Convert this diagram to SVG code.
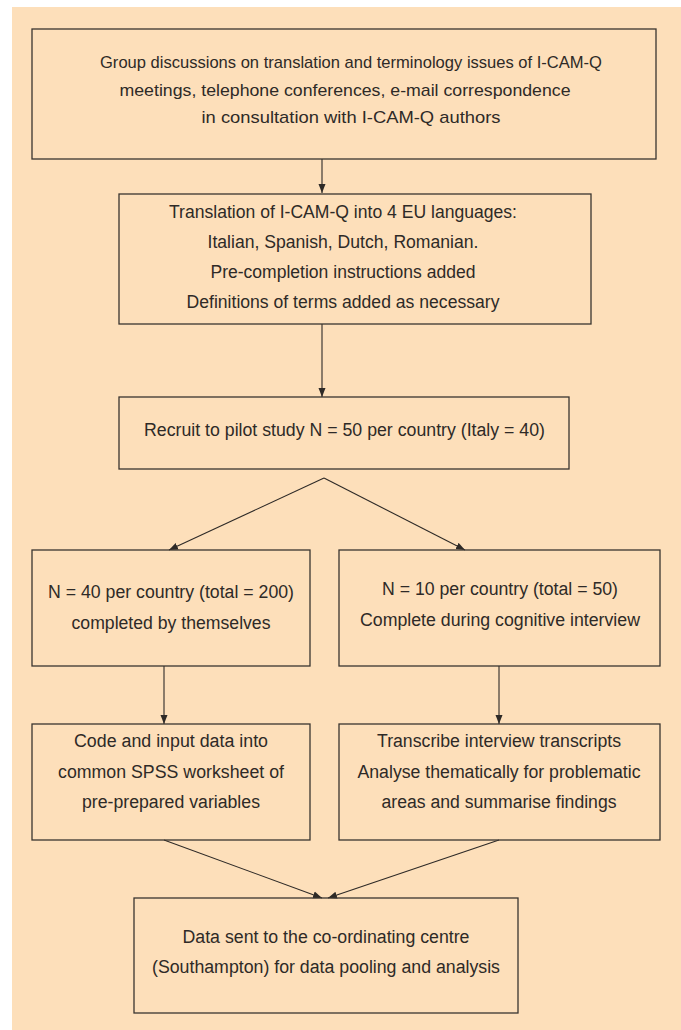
<svg xmlns="http://www.w3.org/2000/svg" width="681" height="1030" viewBox="0 0 681 1030">
<style>
.box{fill:none;stroke:#3a3530;stroke-width:1.3}
.t{font-family:"Liberation Sans",Arial,sans-serif;font-size:18px;fill:#2e2a27;text-anchor:middle}
.s{font-size:17px}
.r{font-size:17.5px}
.c{stroke:#2e2a27;stroke-width:1.1;fill:none;marker-end:url(#ah)}
</style>
<defs>
<marker id="ah" markerUnits="userSpaceOnUse" markerWidth="10" markerHeight="8" refX="9" refY="4" orient="auto">
<path d="M0,0.5 L9,4 L0,7.5 z" fill="#2e2a27"/>
</marker>
</defs>
<rect x="0" y="0" width="681" height="1030" fill="#ffffff"/>
<rect x="12" y="7" width="669" height="1023" fill="#fddfba"/>
<g id="connectors">
<line class="c" x1="322" y1="159" x2="322" y2="193"/>
<line class="c" x1="322" y1="324" x2="322" y2="397"/>
<line class="c" x1="324" y1="478" x2="169" y2="550"/>
<line class="c" x1="324" y1="478" x2="465" y2="550"/>
<line class="c" x1="164" y1="666" x2="164" y2="724"/>
<line class="c" x1="499" y1="666" x2="499" y2="724"/>
<line class="c" x1="164" y1="840" x2="322" y2="898"/>
<line class="c" x1="499" y1="840" x2="328" y2="898"/>
</g>
<g id="n1">
<rect class="box" x="32" y="29" width="624" height="130"/>
<text class="t s" x="351" y="68" textLength="502" lengthAdjust="spacingAndGlyphs">Group discussions on translation and terminology issues of I-CAM-Q</text>
<text class="t s" x="345" y="96" textLength="451" lengthAdjust="spacingAndGlyphs">meetings, telephone conferences, e-mail correspondence</text>
<text class="t s" x="351" y="123" textLength="299" lengthAdjust="spacingAndGlyphs">in consultation with I-CAM-Q authors</text>
</g>
<g id="n2">
<rect class="box" x="119" y="194" width="472" height="130"/>
<text class="t r" x="343" y="218" textLength="348" lengthAdjust="spacingAndGlyphs">Translation of I-CAM-Q into 4 EU languages:</text>
<text class="t r" x="343" y="248" textLength="271" lengthAdjust="spacingAndGlyphs">Italian, Spanish, Dutch, Romanian.</text>
<text class="t r" x="343" y="278" textLength="265" lengthAdjust="spacingAndGlyphs">Pre-completion instructions added</text>
<text class="t r" x="343" y="308" textLength="313" lengthAdjust="spacingAndGlyphs">Definitions of terms added as necessary</text>
</g>
<g id="n3">
<rect class="box" x="119" y="397" width="450" height="72"/>
<text class="t" x="344.5" y="436" textLength="401" lengthAdjust="spacingAndGlyphs">Recruit to pilot study N = 50 per country (Italy = 40)</text>
</g>
<g id="n4">
<rect class="box" x="32" y="550" width="278" height="116"/>
<text class="t" x="171" y="598" textLength="246" lengthAdjust="spacingAndGlyphs">N = 40 per country (total = 200)</text>
<text class="t" x="171" y="629" textLength="199" lengthAdjust="spacingAndGlyphs">completed by themselves</text>
</g>
<g id="n5">
<rect class="box" x="339" y="550" width="321" height="116"/>
<text class="t" x="500" y="595" textLength="236" lengthAdjust="spacingAndGlyphs">N = 10 per country (total = 50)</text>
<text class="t" x="500" y="626" textLength="280" lengthAdjust="spacingAndGlyphs">Complete during cognitive interview</text>
</g>
<g id="n6">
<rect class="box" x="32" y="724" width="278" height="116"/>
<text class="t" x="171" y="747" textLength="194" lengthAdjust="spacingAndGlyphs">Code and input data into</text>
<text class="t" x="171" y="778" textLength="226" lengthAdjust="spacingAndGlyphs">common SPSS worksheet of</text>
<text class="t" x="171" y="808" textLength="178" lengthAdjust="spacingAndGlyphs">pre-prepared variables</text>
</g>
<g id="n7">
<rect class="box" x="339" y="724" width="321" height="116"/>
<text class="t" x="499" y="747" textLength="244" lengthAdjust="spacingAndGlyphs">Transcribe interview transcripts</text>
<text class="t" x="499" y="778" textLength="283" lengthAdjust="spacingAndGlyphs">Analyse thematically for problematic</text>
<text class="t" x="499" y="808" textLength="235" lengthAdjust="spacingAndGlyphs">areas and summarise findings</text>
</g>
<g id="n8">
<rect class="box" x="134" y="898" width="384" height="115"/>
<text class="t" x="326" y="943" textLength="287" lengthAdjust="spacingAndGlyphs">Data sent to the co-ordinating centre</text>
<text class="t" x="326" y="973" textLength="348" lengthAdjust="spacingAndGlyphs">(Southampton) for data pooling and analysis</text>
</g>
</svg>
